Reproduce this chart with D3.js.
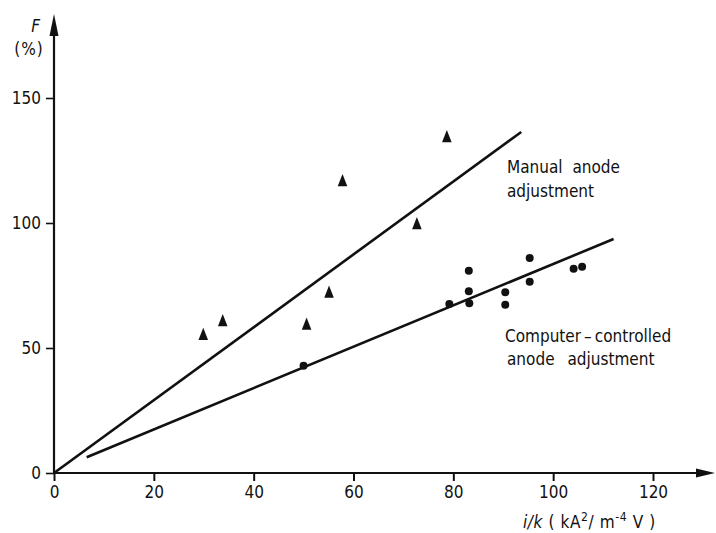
<!doctype html>
<html>
<head>
	<meta charset="utf-8">
	<title>F versus i/k</title>
	<script src="https://cdnjs.cloudflare.com/ajax/libs/d3/7.8.5/d3.min.js"></script>
	<style>
		body { margin: 0; background: #fff; }
		svg { display: block; }
		.tick text { font-family: "DejaVu Sans Condensed", "Liberation Sans Narrow", sans-serif; font-size: 17px; fill: #111; }
		.note { font-family: "DejaVu Sans Condensed", "Liberation Sans Narrow", sans-serif; font-size: 17px; fill: #111; }
		.lab { font-family: "DejaVu Sans Condensed", sans-serif; font-size: 17px; fill: #111; }
	</style>
</head>
<body>
	<script>
		// values
		var xTicks = [0, 20, 40, 60, 80, 100, 120];
		var yTicks = [0, 50, 100, 150];

		// manual anode adjustment (triangles)
		var manualX = [29.9, 33.8, 50.6, 55.1, 57.8, 72.7, 78.7];
		var manualY = [54.8, 60.3, 58.9, 71.7, 116.3, 99.1, 133.9];

		// computer-controlled anode adjustment (dots)
		var compX = [50.0, 79.2, 83.1, 83.1, 83.2, 90.4, 90.4, 95.3, 95.3, 104.1, 105.8];
		var compY = [42.9, 67.6, 80.9, 72.7, 67.9, 72.3, 67.3, 86.0, 76.5, 81.7, 82.5];

		// fitted lines, end points
		var manualFit = [[0, 0], [93.6, 136.4]];
		var compFit = [[6.55, 6.3], [112.1, 93.6]];

		var width = 716, height = 533;

		var svg = d3.select('body').append('svg')
			.attr('width', width)
			.attr('height', height);

		var x = d3.scaleLinear().domain([0, 120]).range([54, 653]);
		var y = d3.scaleLinear().domain([0, 150]).range([473, 98]);

		// x axis
		var xAxis = svg.append('g')
			.attr('transform', 'translate(0,' + y(0) + ')')
			.call(d3.axisBottom(x).tickValues(xTicks).tickSize(8).tickPadding(5).tickFormat(d3.format('d')));
		xAxis.select('.domain').remove();
		xAxis.selectAll('.tick line').attr('stroke', '#111').attr('stroke-width', 2);

		// y axis
		var yAxis = svg.append('g')
			.attr('transform', 'translate(' + x(0) + ',0)')
			.call(d3.axisLeft(y).tickValues(yTicks).tickSize(8).tickPadding(5).tickFormat(d3.format('d')));
		yAxis.select('.domain').remove();
		yAxis.selectAll('.tick line').attr('stroke', '#111').attr('stroke-width', 1.6);

		// axis lines with arrow heads
		svg.append('line')
			.attr('x1', x(0)).attr('y1', y(0))
			.attr('x2', 700).attr('y2', y(0))
			.attr('stroke', '#111').attr('stroke-width', 2.2);
		svg.append('path')
			.attr('d', 'M696,' + (y(0) - 4.5) + 'L715,' + y(0) + 'L696,' + (y(0) + 4.5) + 'Z')
			.attr('fill', '#111');

		svg.append('line')
			.attr('x1', x(0)).attr('y1', y(0))
			.attr('x2', x(0)).attr('y2', 32)
			.attr('stroke', '#111').attr('stroke-width', 2.2);
		svg.append('path')
			.attr('d', 'M' + (x(0) - 4.5) + ',36L' + x(0) + ',14L' + (x(0) + 4.5) + ',36Z')
			.attr('fill', '#111');

		// fit lines
		var line = d3.line()
			.x(function (d) { return x(d[0]); })
			.y(function (d) { return y(d[1]); });

		svg.append('path').datum(manualFit)
			.attr('d', line)
			.attr('fill', 'none').attr('stroke', '#111').attr('stroke-width', 2.6);
		svg.append('path').datum(compFit)
			.attr('d', line)
			.attr('fill', 'none').attr('stroke', '#111').attr('stroke-width', 2.6);

		// triangles
		var tri = d3.symbol().type(d3.symbolTriangle).size(55);
		svg.selectAll('.tri')
			.data(d3.range(manualX.length))
			.enter()
			.append('path')
			.attr('class', 'tri')
			.attr('d', tri)
			.attr('transform', function (i) {
				return 'translate(' + x(manualX[i]) + ',' + y(manualY[i]) + ') scale(0.85,1.25)';
			})
			.attr('fill', '#111');

		// dots
		svg.selectAll('.dot')
			.data(d3.range(compX.length))
			.enter()
			.append('circle')
			.attr('class', 'dot')
			.attr('cx', function (i) { return x(compX[i]); })
			.attr('cy', function (i) { return y(compY[i]); })
			.attr('r', 4)
			.attr('fill', '#111');

		// annotations
		var m = svg.append('text').attr('class', 'note').attr('x', 507).attr('y', 173)
			.style('word-spacing', '5px');
		m.append('tspan').attr('x', 507).text('Manual anode');
		m.append('tspan').attr('x', 507).attr('dy', 24).text('adjustment');

		var c = svg.append('text').attr('class', 'note').attr('x', 505).attr('y', 342);
		c.append('tspan').attr('x', 505).text('Computer\u2009\u2013\u2009controlled');
		c.append('tspan').attr('x', 507).attr('dy', 23).style('word-spacing', '8px').text('anode adjustment');

		// axis titles
		svg.append('text').attr('class', 'lab')
			.attr('x', 40).attr('y', 32).attr('text-anchor', 'end')
			.style('font-style', 'italic')
			.text('F');
		svg.append('text').attr('class', 'lab')
			.attr('x', 29).attr('y', 55).attr('text-anchor', 'middle')
			.style('letter-spacing', '1px')
			.text('(%)');

		var xl = svg.append('text').attr('class', 'lab')
			.attr('x', 523).attr('y', 528)
			.style('letter-spacing', '0.6px');
		xl.append('tspan').style('font-style', 'italic').text('i/k');
		xl.append('tspan').text(' ( kA');
		xl.append('tspan').attr('dy', -7).style('font-size', '12px').text('2');
		xl.append('tspan').attr('dy', 7).text('/ m');
		xl.append('tspan').attr('dy', -7).style('font-size', '12px').text('-4');
		xl.append('tspan').attr('dy', 7).text(' V )');
	</script>
</body>
</html>
